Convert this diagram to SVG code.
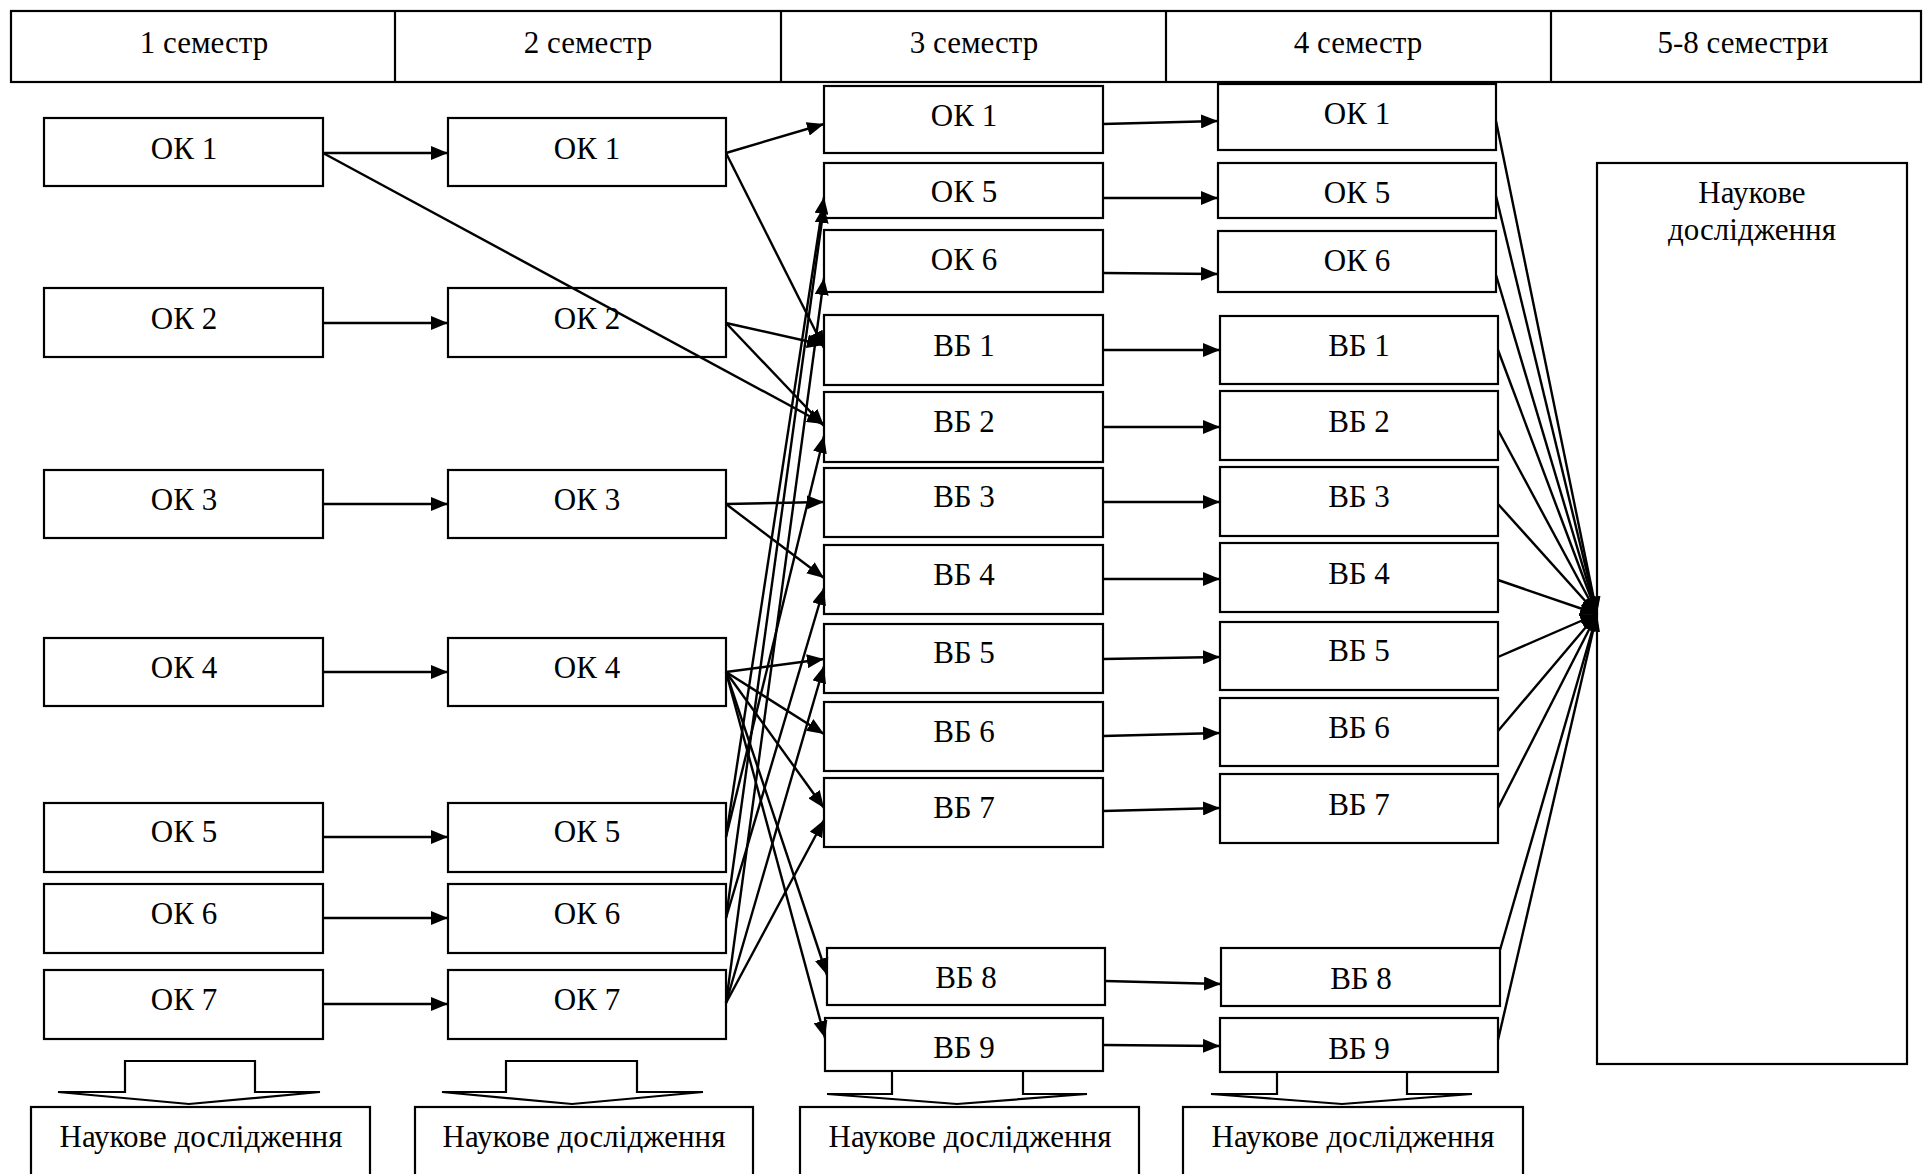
<svg xmlns="http://www.w3.org/2000/svg" width="1923" height="1174" viewBox="0 0 1923 1174">
<style>
.bx{fill:#fff;stroke:#000;stroke-width:2.2}
.t{font-family:"Liberation Serif","Times New Roman",serif;font-size:31px;fill:#000;text-anchor:middle}
.c{fill:none;stroke:#000;stroke-width:2.4}
.ba{fill:#fff;stroke:#000;stroke-width:2.2;stroke-linejoin:miter}
</style>
<defs>
<marker id="ah" markerUnits="userSpaceOnUse" markerWidth="17" markerHeight="14" refX="17" refY="7" orient="auto">
<path d="M0,0 L17,7 L0,14 z" fill="#000"/>
</marker>
</defs>
<rect width="1923" height="1174" fill="#fff"/>

<g id="header">
<rect class="bx" x="11" y="11" width="1910" height="71"/>
<line x1="395" y1="11" x2="395" y2="82" stroke="#000" stroke-width="2.2"/>
<line x1="781" y1="11" x2="781" y2="82" stroke="#000" stroke-width="2.2"/>
<line x1="1166" y1="11" x2="1166" y2="82" stroke="#000" stroke-width="2.2"/>
<line x1="1551" y1="11" x2="1551" y2="82" stroke="#000" stroke-width="2.2"/>
<text class="t" x="204" y="53">1 семестр</text>
<text class="t" x="588" y="53">2 семестр</text>
<text class="t" x="974" y="53">3 семестр</text>
<text class="t" x="1358" y="53">4 семестр</text>
<text class="t" x="1743" y="53">5-8 семестри</text>
</g>

<g id="s1-ok1"><rect class="bx" x="44" y="118" width="279" height="68"/><text class="t" x="184" y="159">ОК 1</text></g>
<g id="s1-ok2"><rect class="bx" x="44" y="288" width="279" height="69"/><text class="t" x="184" y="329">ОК 2</text></g>
<g id="s1-ok3"><rect class="bx" x="44" y="470" width="279" height="68"/><text class="t" x="184" y="510">ОК 3</text></g>
<g id="s1-ok4"><rect class="bx" x="44" y="638" width="279" height="68"/><text class="t" x="184" y="678">ОК 4</text></g>
<g id="s1-ok5"><rect class="bx" x="44" y="803" width="279" height="69"/><text class="t" x="184" y="842">ОК 5</text></g>
<g id="s1-ok6"><rect class="bx" x="44" y="884" width="279" height="69"/><text class="t" x="184" y="924">ОК 6</text></g>
<g id="s1-ok7"><rect class="bx" x="44" y="970" width="279" height="69"/><text class="t" x="184" y="1010">ОК 7</text></g>

<g id="s2-ok1"><rect class="bx" x="448" y="118" width="278" height="68"/><text class="t" x="587" y="159">ОК 1</text></g>
<g id="s2-ok2"><rect class="bx" x="448" y="288" width="278" height="69"/><text class="t" x="587" y="329">ОК 2</text></g>
<g id="s2-ok3"><rect class="bx" x="448" y="470" width="278" height="68"/><text class="t" x="587" y="510">ОК 3</text></g>
<g id="s2-ok4"><rect class="bx" x="448" y="638" width="278" height="68"/><text class="t" x="587" y="678">ОК 4</text></g>
<g id="s2-ok5"><rect class="bx" x="448" y="803" width="278" height="69"/><text class="t" x="587" y="842">ОК 5</text></g>
<g id="s2-ok6"><rect class="bx" x="448" y="884" width="278" height="69"/><text class="t" x="587" y="924">ОК 6</text></g>
<g id="s2-ok7"><rect class="bx" x="448" y="970" width="278" height="69"/><text class="t" x="587" y="1010">ОК 7</text></g>

<g id="s3-ok1"><rect class="bx" x="824" y="86" width="279" height="67"/><text class="t" x="964" y="126">ОК 1</text></g>
<g id="s3-ok5"><rect class="bx" x="824" y="163" width="279" height="55"/><text class="t" x="964" y="202">ОК 5</text></g>
<g id="s3-ok6"><rect class="bx" x="824" y="230" width="279" height="62"/><text class="t" x="964" y="270">ОК 6</text></g>
<g id="s3-vb1"><rect class="bx" x="824" y="315" width="279" height="70"/><text class="t" x="964" y="356">ВБ 1</text></g>
<g id="s3-vb2"><rect class="bx" x="824" y="392" width="279" height="70"/><text class="t" x="964" y="432">ВБ 2</text></g>
<g id="s3-vb3"><rect class="bx" x="824" y="468" width="279" height="69"/><text class="t" x="964" y="507">ВБ 3</text></g>
<g id="s3-vb4"><rect class="bx" x="824" y="545" width="279" height="69"/><text class="t" x="964" y="585">ВБ 4</text></g>
<g id="s3-vb5"><rect class="bx" x="824" y="624" width="279" height="69"/><text class="t" x="964" y="663">ВБ 5</text></g>
<g id="s3-vb6"><rect class="bx" x="824" y="702" width="279" height="69"/><text class="t" x="964" y="742">ВБ 6</text></g>
<g id="s3-vb7"><rect class="bx" x="824" y="778" width="279" height="69"/><text class="t" x="964" y="818">ВБ 7</text></g>
<g id="s3-vb8"><rect class="bx" x="827" y="948" width="278" height="57"/><text class="t" x="966" y="988">ВБ 8</text></g>
<g id="s3-vb9"><rect class="bx" x="825" y="1018" width="278" height="53"/><text class="t" x="964" y="1058">ВБ 9</text></g>

<g id="s4-ok1"><rect class="bx" x="1218" y="84" width="278" height="66"/><text class="t" x="1357" y="124">ОК 1</text></g>
<g id="s4-ok5"><rect class="bx" x="1218" y="163" width="278" height="55"/><text class="t" x="1357" y="203">ОК 5</text></g>
<g id="s4-ok6"><rect class="bx" x="1218" y="231" width="278" height="61"/><text class="t" x="1357" y="271">ОК 6</text></g>
<g id="s4-vb1"><rect class="bx" x="1220" y="316" width="278" height="68"/><text class="t" x="1359" y="356">ВБ 1</text></g>
<g id="s4-vb2"><rect class="bx" x="1220" y="391" width="278" height="69"/><text class="t" x="1359" y="432">ВБ 2</text></g>
<g id="s4-vb3"><rect class="bx" x="1220" y="467" width="278" height="69"/><text class="t" x="1359" y="507">ВБ 3</text></g>
<g id="s4-vb4"><rect class="bx" x="1220" y="543" width="278" height="69"/><text class="t" x="1359" y="584">ВБ 4</text></g>
<g id="s4-vb5"><rect class="bx" x="1220" y="622" width="278" height="68"/><text class="t" x="1359" y="661">ВБ 5</text></g>
<g id="s4-vb6"><rect class="bx" x="1220" y="698" width="278" height="68"/><text class="t" x="1359" y="738">ВБ 6</text></g>
<g id="s4-vb7"><rect class="bx" x="1220" y="774" width="278" height="69"/><text class="t" x="1359" y="815">ВБ 7</text></g>
<g id="s4-vb8"><rect class="bx" x="1221" y="948" width="279" height="58"/><text class="t" x="1361" y="989">ВБ 8</text></g>
<g id="s4-vb9"><rect class="bx" x="1220" y="1018" width="278" height="54"/><text class="t" x="1359" y="1059">ВБ 9</text></g>

<g id="research-main"><rect class="bx" x="1597" y="163" width="310" height="901"/><text class="t" x="1752" y="203">Наукове</text><text class="t" x="1752" y="240">дослідження</text></g>

<g id="block-arrows">
<path class="ba" d="M125,1061 L255,1061 L255,1092 L320,1092 L189,1104 L58,1092 L125,1092 Z"/>
<path class="ba" d="M506,1061 L637,1061 L637,1092 L703,1092 L572,1104 L442,1092 L506,1092 Z"/>
<path class="ba" d="M892,1071 L1023,1071 L1023,1094 L1087,1094 L957,1104 L827,1094 L892,1094 Z"/>
<path class="ba" d="M1277,1072 L1407,1072 L1407,1094 L1472,1094 L1342,1104 L1211,1094 L1277,1094 Z"/>
</g>

<g id="research-1"><rect class="bx" x="31" y="1107" width="339" height="90"/><text class="t" x="201" y="1147">Наукове дослідження</text></g>
<g id="research-2"><rect class="bx" x="415" y="1107" width="338" height="90"/><text class="t" x="584" y="1147">Наукове дослідження</text></g>
<g id="research-3"><rect class="bx" x="800" y="1107" width="339" height="90"/><text class="t" x="970" y="1147">Наукове дослідження</text></g>
<g id="research-4"><rect class="bx" x="1183" y="1107" width="340" height="90"/><text class="t" x="1353" y="1147">Наукове дослідження</text></g>

<g id="connectors">
<line class="c" x1="323" y1="153" x2="448" y2="153" marker-end="url(#ah)"/>
<line class="c" x1="323" y1="323" x2="448" y2="323" marker-end="url(#ah)"/>
<line class="c" x1="323" y1="504" x2="448" y2="504" marker-end="url(#ah)"/>
<line class="c" x1="323" y1="672" x2="448" y2="672" marker-end="url(#ah)"/>
<line class="c" x1="323" y1="837" x2="448" y2="837" marker-end="url(#ah)"/>
<line class="c" x1="323" y1="918" x2="448" y2="918" marker-end="url(#ah)"/>
<line class="c" x1="323" y1="1004" x2="448" y2="1004" marker-end="url(#ah)"/>
<line class="c" x1="323" y1="153" x2="824" y2="424" marker-end="url(#ah)"/>

<line class="c" x1="726" y1="153" x2="824" y2="124" marker-end="url(#ah)"/>
<line class="c" x1="726" y1="153" x2="824" y2="348" marker-end="url(#ah)"/>
<line class="c" x1="726" y1="323" x2="824" y2="345" marker-end="url(#ah)"/>
<line class="c" x1="726" y1="323" x2="824" y2="426" marker-end="url(#ah)"/>
<line class="c" x1="726" y1="504" x2="824" y2="502" marker-end="url(#ah)"/>
<line class="c" x1="726" y1="504" x2="824" y2="578" marker-end="url(#ah)"/>
<line class="c" x1="726" y1="672" x2="824" y2="659" marker-end="url(#ah)"/>
<line class="c" x1="726" y1="672" x2="824" y2="734" marker-end="url(#ah)"/>
<line class="c" x1="726" y1="672" x2="824" y2="808" marker-end="url(#ah)"/>
<line class="c" x1="726" y1="672" x2="827" y2="975" marker-end="url(#ah)"/>
<line class="c" x1="726" y1="672" x2="825" y2="1038" marker-end="url(#ah)"/>
<line class="c" x1="726" y1="837" x2="824" y2="197" marker-end="url(#ah)"/>
<line class="c" x1="726" y1="837" x2="824" y2="436" marker-end="url(#ah)"/>
<line class="c" x1="726" y1="918" x2="824" y2="206" marker-end="url(#ah)"/>
<line class="c" x1="726" y1="918" x2="824" y2="588" marker-end="url(#ah)"/>
<line class="c" x1="726" y1="1003" x2="824" y2="278" marker-end="url(#ah)"/>
<line class="c" x1="726" y1="1003" x2="824" y2="666" marker-end="url(#ah)"/>
<line class="c" x1="726" y1="1003" x2="824" y2="820" marker-end="url(#ah)"/>

<line class="c" x1="1103" y1="124" x2="1218" y2="121" marker-end="url(#ah)"/>
<line class="c" x1="1103" y1="198" x2="1218" y2="198" marker-end="url(#ah)"/>
<line class="c" x1="1103" y1="273" x2="1218" y2="274" marker-end="url(#ah)"/>
<line class="c" x1="1103" y1="350" x2="1220" y2="350" marker-end="url(#ah)"/>
<line class="c" x1="1103" y1="427" x2="1220" y2="427" marker-end="url(#ah)"/>
<line class="c" x1="1103" y1="502" x2="1220" y2="502" marker-end="url(#ah)"/>
<line class="c" x1="1103" y1="579" x2="1220" y2="579" marker-end="url(#ah)"/>
<line class="c" x1="1103" y1="659" x2="1220" y2="657" marker-end="url(#ah)"/>
<line class="c" x1="1103" y1="736" x2="1220" y2="733" marker-end="url(#ah)"/>
<line class="c" x1="1103" y1="811" x2="1220" y2="808" marker-end="url(#ah)"/>
<line class="c" x1="1105" y1="981" x2="1221" y2="984" marker-end="url(#ah)"/>
<line class="c" x1="1103" y1="1045" x2="1220" y2="1046" marker-end="url(#ah)"/>

<line class="c" x1="1496" y1="121" x2="1597" y2="614" marker-end="url(#ah)"/>
<line class="c" x1="1496" y1="196" x2="1597" y2="614" marker-end="url(#ah)"/>
<line class="c" x1="1496" y1="275" x2="1597" y2="614" marker-end="url(#ah)"/>
<line class="c" x1="1498" y1="350" x2="1597" y2="614" marker-end="url(#ah)"/>
<line class="c" x1="1498" y1="430" x2="1597" y2="614" marker-end="url(#ah)"/>
<line class="c" x1="1498" y1="504" x2="1597" y2="614" marker-end="url(#ah)"/>
<line class="c" x1="1498" y1="580" x2="1597" y2="614" marker-end="url(#ah)"/>
<line class="c" x1="1498" y1="657" x2="1597" y2="614" marker-end="url(#ah)"/>
<line class="c" x1="1498" y1="731" x2="1597" y2="614" marker-end="url(#ah)"/>
<line class="c" x1="1498" y1="808" x2="1597" y2="614" marker-end="url(#ah)"/>
<line class="c" x1="1500" y1="950" x2="1597" y2="614" marker-end="url(#ah)"/>
<line class="c" x1="1498" y1="1040" x2="1597" y2="614" marker-end="url(#ah)"/>
</g>
</svg>
